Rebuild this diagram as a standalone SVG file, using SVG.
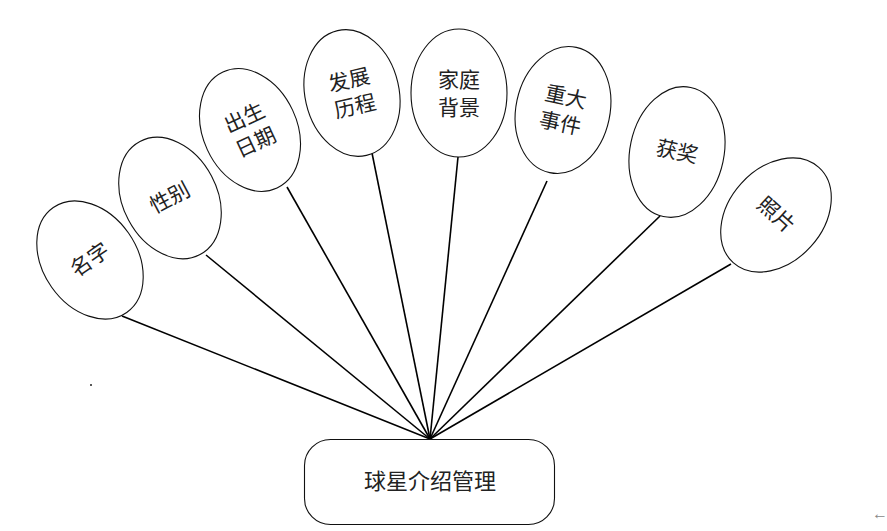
<svg xmlns="http://www.w3.org/2000/svg" width="887" height="531" viewBox="0 0 887 531">
<style>
.n ellipse{fill:#fff;stroke:#111;stroke-width:1.1}
.t{font-family:"Liberation Serif","Noto Sans CJK SC",serif;font-size:21px;fill:#222;text-anchor:middle;dominant-baseline:central}
.c line{stroke:#000;stroke-width:1.6}
</style>
<rect width="887" height="531" fill="#fff"/>
<g class="c" id="connectors">
<line x1="122" y1="316" x2="430" y2="439"/>
<line x1="206" y1="255" x2="430" y2="439"/>
<line x1="287" y1="187" x2="430" y2="439"/>
<line x1="372" y1="153" x2="430" y2="439"/>
<line x1="458" y1="157" x2="430" y2="439"/>
<line x1="547" y1="181" x2="430" y2="439"/>
<line x1="660" y1="216" x2="430" y2="439"/>
<line x1="731" y1="264" x2="430" y2="439"/>
</g>
<g class="n" id="n1" transform="translate(90,260) rotate(-35)"><ellipse rx="47" ry="64"/><text class="t" x="0" y="0">名字</text></g>
<g class="n" id="n2" transform="translate(170,198) rotate(-28)"><ellipse rx="47" ry="64"/><text class="t" x="0" y="0">性别</text></g>
<g class="n" id="n3" transform="translate(250,130) rotate(-25)"><ellipse rx="47" ry="64"/><text class="t" x="0" y="-13">出生</text><text class="t" x="0" y="14">日期</text></g>
<g class="n" id="n4" transform="translate(352,93) rotate(-13)"><ellipse rx="47" ry="64"/><text class="t" x="0" y="-13">发展</text><text class="t" x="0" y="14">历程</text></g>
<g class="n" id="n5" transform="translate(459,93)"><ellipse rx="48" ry="64"/><text class="t" x="0" y="-13">家庭</text><text class="t" x="0" y="15">背景</text></g>
<g class="n" id="n6" transform="translate(563,110) rotate(12)"><ellipse rx="47" ry="64"/><text class="t" x="0" y="-13">重大</text><text class="t" x="0" y="14">事件</text></g>
<g class="n" id="n7" transform="translate(677,152) rotate(12)"><ellipse rx="47" ry="66"/><text class="t" x="0" y="0">获奖</text></g>
<g class="n" id="n8" transform="translate(776,215) rotate(42)"><ellipse rx="47" ry="64"/><text class="t" x="0" y="0">照片</text></g>
<g id="root"><rect x="304.500" y="439.500" width="250" height="85" rx="26" fill="#fff" stroke="#111" stroke-width="1.1"/><text class="t" x="430" y="481" style="font-size:22px">球星介绍管理</text></g>
<circle cx="91" cy="385" r="1" fill="#222"/>
<text x="872" y="519" style="font-family:'Liberation Sans',sans-serif;font-size:16px;fill:#888">←</text>
</svg>
